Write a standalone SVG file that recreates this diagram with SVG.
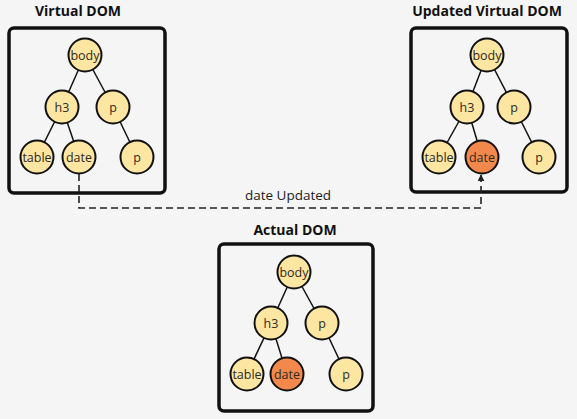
<svg xmlns="http://www.w3.org/2000/svg" width="577" height="419" viewBox="0 0 577 419">
<defs>
<style>
.bg{fill:#f5f5f5}
.frame{fill:none;stroke:#111;stroke-width:3.5}
.title{font-family:"Open Sans","Liberation Sans",sans-serif;font-weight:bold;font-size:14px;fill:#111;text-anchor:middle}
.edge{stroke:#111;stroke-width:1.5;fill:none}
.n circle{fill:#fde5a2;stroke:#111;stroke-width:2}
.n.hl circle{fill:#f2884b}
.n text{font-family:"Open Sans","Liberation Sans",sans-serif;font-size:12.5px;fill:#2e2a22;text-anchor:middle;dominant-baseline:central}
.dash{stroke:#222;stroke-width:1.6;fill:none;stroke-dasharray:7,4}
.lbl{font-family:"Open Sans","Liberation Sans",sans-serif;font-size:13.5px;fill:#222;text-anchor:middle}
</style>
<marker id="arr" viewBox="0 0 10 10" refX="9" refY="5" markerWidth="7" markerHeight="7" orient="auto-start-reverse" markerUnits="userSpaceOnUse">
<path d="M0,0 L10,5 L0,10 z" fill="#222"/>
</marker>
</defs>
<rect class="bg" x="0" y="0" width="577" height="419"/>

<!-- Virtual DOM -->
<g id="virtual-dom">
<text class="title" x="78" y="16">Virtual DOM</text>
<rect class="frame" x="9" y="28" width="156" height="165" rx="5"/>
<g class="edges">
<line class="edge" x1="85" y1="55" x2="62" y2="107"/>
<line class="edge" x1="85" y1="55" x2="113" y2="107"/>
<line class="edge" x1="62" y1="107" x2="37" y2="157"/>
<line class="edge" x1="62" y1="107" x2="79" y2="157"/>
<line class="edge" x1="113" y1="107" x2="137" y2="157"/>
</g>
<g id="v-body" class="n"><circle cx="85" cy="55" r="16.5"/><text x="85" y="55">body</text></g>
<g id="v-h3" class="n"><circle cx="62" cy="107" r="16.5"/><text x="62" y="107">h3</text></g>
<g id="v-p1" class="n"><circle cx="113" cy="107" r="16.5"/><text x="113" y="107">p</text></g>
<g id="v-table" class="n"><circle cx="37" cy="157" r="16.5"/><text x="37" y="157">table</text></g>
<g id="v-date" class="n"><circle cx="79" cy="157" r="16.5"/><text x="79" y="157">date</text></g>
<g id="v-p2" class="n"><circle cx="137" cy="157" r="16.5"/><text x="137" y="157">p</text></g>
</g>

<!-- Updated Virtual DOM -->
<g id="updated-virtual-dom">
<text class="title" x="487" y="16">Updated Virtual DOM</text>
<rect class="frame" x="411" y="28" width="156" height="164" rx="5"/>
<g class="edges">
<line class="edge" x1="487" y1="55" x2="467" y2="107"/>
<line class="edge" x1="487" y1="55" x2="514" y2="107"/>
<line class="edge" x1="467" y1="107" x2="439" y2="157"/>
<line class="edge" x1="467" y1="107" x2="482" y2="157"/>
<line class="edge" x1="514" y1="107" x2="539" y2="157"/>
</g>
<g id="u-body" class="n"><circle cx="487" cy="55" r="16.5"/><text x="487" y="55">body</text></g>
<g id="u-h3" class="n"><circle cx="467" cy="107" r="16.5"/><text x="467" y="107">h3</text></g>
<g id="u-p1" class="n"><circle cx="514" cy="107" r="16.5"/><text x="514" y="107">p</text></g>
<g id="u-table" class="n"><circle cx="439" cy="157" r="16.5"/><text x="439" y="157">table</text></g>
<g id="u-date" class="n hl"><circle cx="482" cy="157" r="16.5"/><text x="482" y="157">date</text></g>
<g id="u-p2" class="n"><circle cx="539" cy="157" r="16.5"/><text x="539" y="157">p</text></g>
</g>

<!-- Actual DOM -->
<g id="actual-dom">
<text class="title" x="295" y="235">Actual DOM</text>
<rect class="frame" x="219" y="244" width="154" height="167" rx="5"/>
<g class="edges">
<line class="edge" x1="294" y1="272" x2="271" y2="323"/>
<line class="edge" x1="294" y1="272" x2="322" y2="323"/>
<line class="edge" x1="271" y1="323" x2="247" y2="374"/>
<line class="edge" x1="271" y1="323" x2="287" y2="374"/>
<line class="edge" x1="322" y1="323" x2="346" y2="374"/>
</g>
<g id="a-body" class="n"><circle cx="294" cy="272" r="16.5"/><text x="294" y="272">body</text></g>
<g id="a-h3" class="n"><circle cx="271" cy="323" r="16.5"/><text x="271" y="323">h3</text></g>
<g id="a-p1" class="n"><circle cx="322" cy="323" r="16.5"/><text x="322" y="323">p</text></g>
<g id="a-table" class="n"><circle cx="247" cy="374" r="16.5"/><text x="247" y="374">table</text></g>
<g id="a-date" class="n hl"><circle cx="287" cy="374" r="16.5"/><text x="287" y="374">date</text></g>
<g id="a-p2" class="n"><circle cx="346" cy="374" r="16.5"/><text x="346" y="374">p</text></g>
</g>

<!-- Connectors -->
<g id="connectors">
<path class="dash" d="M79,174 V208 H481 V175" marker-end="url(#arr)"/>
<text class="lbl" x="288" y="200">date Updated</text>
</g>
</svg>
